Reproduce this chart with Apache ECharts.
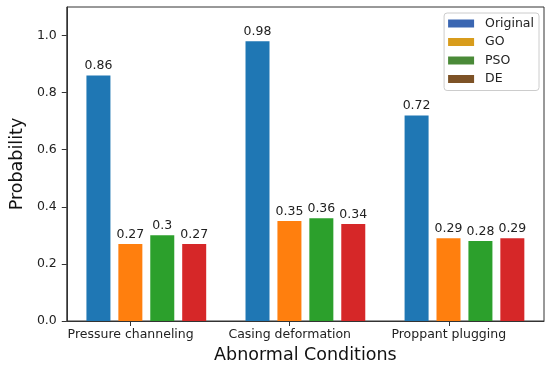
<!DOCTYPE html>
<html>
<head>
<meta charset="utf-8">
<script src="https://cdn.jsdelivr.net/npm/echarts@6/dist/echarts.min.js"></script>
<style>
html,body{margin:0;padding:0;background:#fff;}
#chart{width:550px;height:369px;}
</style>
</head>
<body>
<div id="chart"></div>
<script>
const categories = ['Pressure channeling', 'Casing deformation', 'Proppant plugging'];
const seriesNames = ['Original', 'GO', 'PSO', 'DE'];
const original = [0.86, 0.98, 0.72];
const go = [0.27, 0.35, 0.29];
const pso = [0.3, 0.36, 0.28];
const de = [0.27, 0.34, 0.29];
const yTicks = [0, 0.2, 0.4, 0.6, 0.8, 1.0];

const barColors = ['#1f77b4', '#ff7f0e', '#2ca02c', '#d62728'];
const legendColors = ['#3a66b2', '#d89c1c', '#4a8a38', '#7d5226'];
const allData = [original, go, pso, de];

const FONT = 'DejaVu Sans';
const chart = echarts.init(document.getElementById('chart'), null, {renderer: 'canvas'});

// tick labels sit under the 2nd bar of each group (offset of half bar pitch)
const tickPos = categories.map((c, i) => i + 0.5 - 0.0986);

chart.setOption({
  animation: false,
  textStyle: {fontFamily: FONT},
  grid: {left: 57, right: 6, top: 7, bottom: 48, show: true, borderColor: '#333', borderWidth: 1, backgroundColor: 'transparent'},
  legend: {
    orient: 'vertical',
    right: 11, top: 13,
    data: seriesNames.map((n, i) => ({name: n, itemStyle: {color: legendColors[i]}})),
    icon: 'rect',
    itemWidth: 26, itemHeight: 8, itemGap: 5.5,
    padding: [4, 5, 5, 4],
    borderColor: '#cccccc', borderWidth: 1, borderRadius: 3,
    backgroundColor: 'rgba(255,255,255,0.8)',
    textStyle: {fontFamily: FONT, fontSize: 12.5, color: '#222', padding: [0, 0, 0, 6]}
  },
  xAxis: [
    {
      type: 'category', data: categories, gridIndex: 0,
      axisLine: {show: false}, axisTick: {show: false}, axisLabel: {show: false}, splitLine: {show: false}
    },
    {
      type: 'value', min: 0, max: 3, gridIndex: 0, position: 'bottom',
      name: 'Abnormal Conditions', nameLocation: 'middle', nameGap: 25,
      nameTextStyle: {fontFamily: FONT, fontSize: 17.5, color: '#111'},
      axisLine: {show: true, lineStyle: {color: '#333', width: 1}},
      axisTick: {show: true, length: 5, lineStyle: {color: '#333'}, customValues: tickPos},
      axisLabel: {
        customValues: tickPos, margin: 7,
        fontFamily: FONT, fontSize: 12.5, color: '#222',
        formatter: v => categories[Math.floor(v)] || ''
      },
      splitLine: {show: false}
    }
  ],
  yAxis: {
    type: 'value', min: 0, max: 1.1,
    name: 'Probability', nameLocation: 'middle', nameGap: 36, nameRotate: 90,
    nameTextStyle: {fontFamily: FONT, fontSize: 17.5, color: '#111'},
    axisLine: {show: true, lineStyle: {color: '#333', width: 1}},
    axisTick: {show: true, length: 5, lineStyle: {color: '#333'}, customValues: yTicks},
    axisLabel: {
      customValues: yTicks, margin: 10,
      fontFamily: FONT, fontSize: 12.5, color: '#222',
      formatter: v => v.toFixed(1)
    },
    splitLine: {show: false}
  },
  series: seriesNames.map((n, i) => ({
    name: n, type: 'bar', xAxisIndex: 0,
    data: allData[i],
    barWidth: 24, barGap: '33%',
    itemStyle: {color: barColors[i]},
    label: {show: true, position: 'top', distance: 3, fontFamily: FONT, fontSize: 12.5, color: '#222'}
  }))
});
</script>
</body>
</html>
